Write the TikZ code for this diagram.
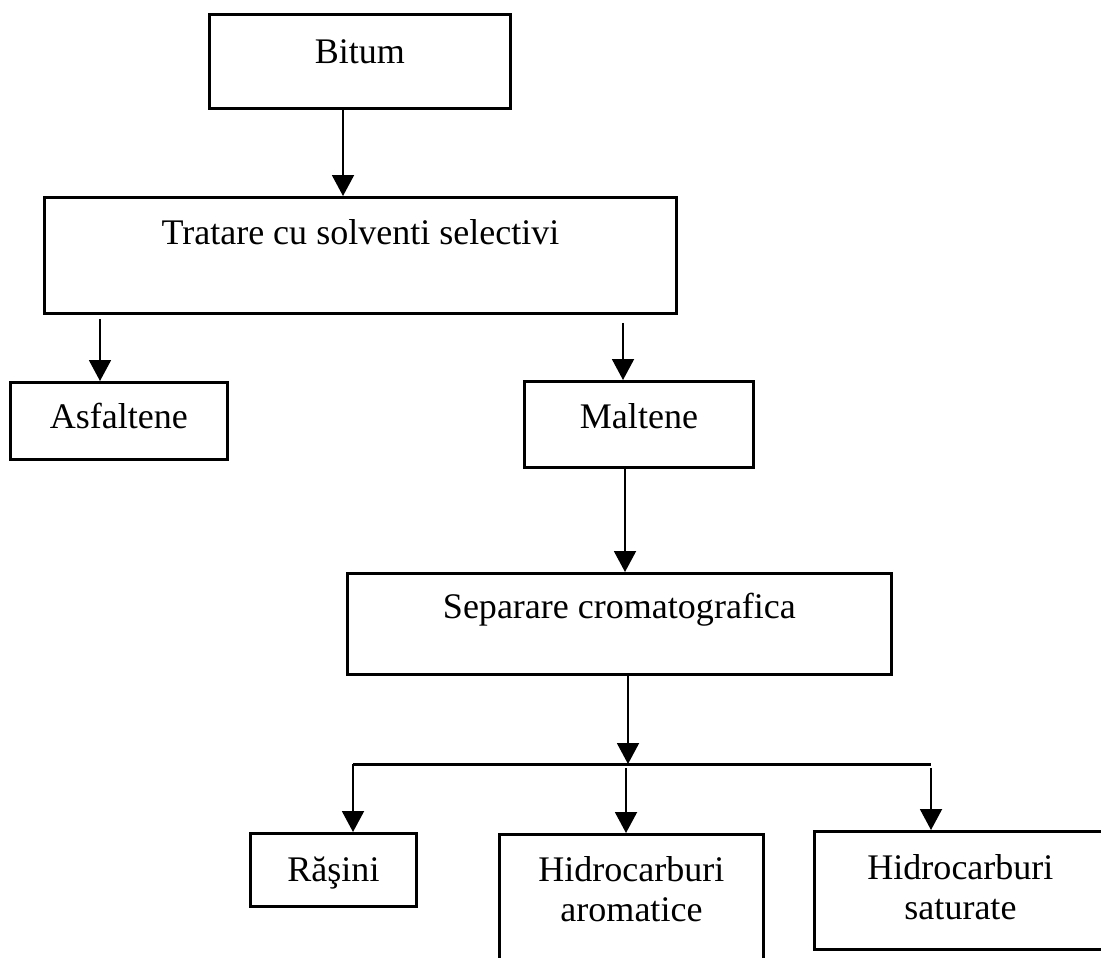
\documentclass[tikz,border=0pt]{standalone}
\usepackage{fontspec}
\setmainfont{Liberation Serif}
\usetikzlibrary{arrows.meta,positioning,calc}

\begin{document}
\begin{tikzpicture}[x=0.02cm,y=-0.02cm,>={Triangle[width=0.44cm,length=0.42cm]},
  box/.style={draw,line width=1.7pt,anchor=north west,inner xsep=0pt,inner ysep=0pt,
    align=center,font=\fontsize{20.5}{23}\selectfont},
  arr/.style={->,line width=1.1pt}]
\path[use as bounding box,clip] (0,0) rectangle (1101,957);
\fill[white] (0,0) rectangle (1101,957);
% boxes
\node[box,minimum width=6.02cm,text height=0.98cm,text depth=0.9cm] (bitum) at (208,13) {Bitum};
\node[box,minimum width=12.64cm,text height=0.94cm,text depth=1.38cm] (tratare) at (43,196) {Tratare cu solventi selectivi};
\node[box,minimum width=4.34cm,text height=0.92cm,text depth=0.62cm] (asf) at (9,381) {Asfaltene};
\node[box,minimum width=4.58cm,text height=0.94cm,text depth=0.78cm] (malt) at (523,380) {Maltene};
\node[box,minimum width=10.88cm,text height=0.9cm,text depth=1.12cm] (sep) at (346,572) {Separare cromatografica};
\node[box,minimum width=3.32cm,text height=0.96cm,text depth=0.5cm] (ras) at (249,832) {Răşini};
\node[box,minimum width=5.28cm,text height=1.74cm,text depth=1.6cm] (arom) at (498,833) {Hidrocarburi\\aromatice};
\node[box,minimum width=5.84cm,text height=1.76cm,text depth=0.6cm] (sat) at (813,830) {Hidrocarburi\\saturate};
% connectors
\coordinate (split) at (628,764);
\coordinate (barL) at (353,764);
\coordinate (barR) at (931,764);
\draw[arr] (bitum.south -| 343,0) -- (tratare.north -| 343,0);
\draw[arr,shorten <=0.08cm] (tratare.south -| 100,0) -- (asf.north -| 100,0);
\draw[arr,shorten <=0.16cm] (tratare.south -| 623,0) -- (malt.north -| 623,0);
\draw[arr] (malt.south -| 625,0) -- (sep.north -| 625,0);
\draw[arr] (sep.south -| split) -- (split);
\draw[line width=1.7pt] (barL) -- (barR);
\draw[arr] (barL) -- (ras.north -| barL);
\draw[arr,shorten <=0.08cm] (split -| 626,0) -- (arom.north -| 626,0);
\draw[arr,shorten <=0.08cm] (barR) -- (sat.north -| barR);
\end{tikzpicture}
\end{document}
